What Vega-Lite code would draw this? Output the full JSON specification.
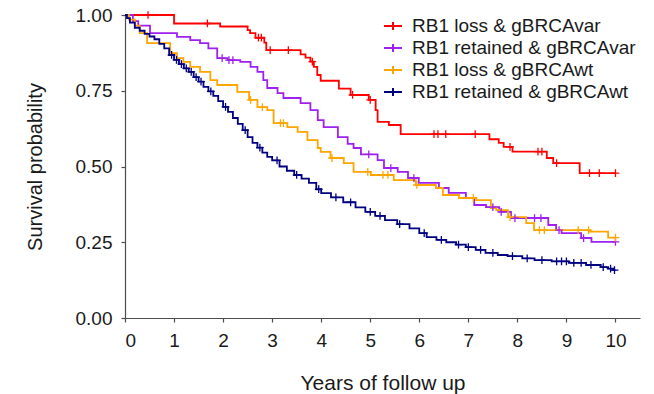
{
  "$schema": "https://vega.github.io/schema/vega-lite/v6.json",
  "width": 515,
  "height": 303,
  "autosize": {"type": "none"},
  "padding": {"left": 125, "top": 15, "right": 14, "bottom": 76},
  "config": {
    "view": {"stroke": null},
    "font": "Liberation Sans",
    "axis": {
      "grid": false,
      "domainColor": "#4d4d4d",
      "domainWidth": 1.2,
      "tickColor": "#4d4d4d",
      "tickWidth": 1.2,
      "tickSize": 4,
      "labelFont": "Liberation Sans",
      "labelFontSize": 19,
      "labelColor": "#1a1a1a",
      "titleFont": "Liberation Sans",
      "titleFontWeight": "normal",
      "titleColor": "#1a1a1a"
    }
  },
  "datasets": {
    "curves": [
      {"group": "RB1 loss & gBRCAvar", "t": 0, "s": 1.0},
      {"group": "RB1 loss & gBRCAvar", "t": 1.0, "s": 0.972},
      {"group": "RB1 loss & gBRCAvar", "t": 1.94, "s": 0.962},
      {"group": "RB1 loss & gBRCAvar", "t": 2.5, "s": 0.95},
      {"group": "RB1 loss & gBRCAvar", "t": 2.55, "s": 0.94},
      {"group": "RB1 loss & gBRCAvar", "t": 2.66, "s": 0.925},
      {"group": "RB1 loss & gBRCAvar", "t": 2.84, "s": 0.909},
      {"group": "RB1 loss & gBRCAvar", "t": 2.88, "s": 0.884},
      {"group": "RB1 loss & gBRCAvar", "t": 3.58, "s": 0.87},
      {"group": "RB1 loss & gBRCAvar", "t": 3.68, "s": 0.859},
      {"group": "RB1 loss & gBRCAvar", "t": 3.78, "s": 0.846},
      {"group": "RB1 loss & gBRCAvar", "t": 3.85, "s": 0.829},
      {"group": "RB1 loss & gBRCAvar", "t": 3.92, "s": 0.802},
      {"group": "RB1 loss & gBRCAvar", "t": 3.99, "s": 0.783},
      {"group": "RB1 loss & gBRCAvar", "t": 4.36, "s": 0.757},
      {"group": "RB1 loss & gBRCAvar", "t": 4.6, "s": 0.736},
      {"group": "RB1 loss & gBRCAvar", "t": 4.97, "s": 0.72},
      {"group": "RB1 loss & gBRCAvar", "t": 5.11, "s": 0.686},
      {"group": "RB1 loss & gBRCAvar", "t": 5.15, "s": 0.647},
      {"group": "RB1 loss & gBRCAvar", "t": 5.38, "s": 0.637},
      {"group": "RB1 loss & gBRCAvar", "t": 5.62, "s": 0.607},
      {"group": "RB1 loss & gBRCAvar", "t": 7.43, "s": 0.59},
      {"group": "RB1 loss & gBRCAvar", "t": 7.62, "s": 0.578},
      {"group": "RB1 loss & gBRCAvar", "t": 7.72, "s": 0.565},
      {"group": "RB1 loss & gBRCAvar", "t": 7.9, "s": 0.549},
      {"group": "RB1 loss & gBRCAvar", "t": 8.6, "s": 0.528},
      {"group": "RB1 loss & gBRCAvar", "t": 8.73, "s": 0.511},
      {"group": "RB1 loss & gBRCAvar", "t": 9.27, "s": 0.478},
      {"group": "RB1 loss & gBRCAvar", "t": 10.0, "s": 0.478},

      {"group": "RB1 retained & gBRCAvar", "t": 0, "s": 1.0},
      {"group": "RB1 retained & gBRCAvar", "t": 0.16, "s": 0.98},
      {"group": "RB1 retained & gBRCAvar", "t": 0.27, "s": 0.965},
      {"group": "RB1 retained & gBRCAvar", "t": 0.51, "s": 0.94},
      {"group": "RB1 retained & gBRCAvar", "t": 1.06, "s": 0.928},
      {"group": "RB1 retained & gBRCAvar", "t": 1.33, "s": 0.917},
      {"group": "RB1 retained & gBRCAvar", "t": 1.53, "s": 0.907},
      {"group": "RB1 retained & gBRCAvar", "t": 1.7, "s": 0.89},
      {"group": "RB1 retained & gBRCAvar", "t": 1.88, "s": 0.858},
      {"group": "RB1 retained & gBRCAvar", "t": 2.09, "s": 0.851},
      {"group": "RB1 retained & gBRCAvar", "t": 2.35, "s": 0.845},
      {"group": "RB1 retained & gBRCAvar", "t": 2.56, "s": 0.829},
      {"group": "RB1 retained & gBRCAvar", "t": 2.7, "s": 0.812},
      {"group": "RB1 retained & gBRCAvar", "t": 2.82, "s": 0.785},
      {"group": "RB1 retained & gBRCAvar", "t": 2.9, "s": 0.759},
      {"group": "RB1 retained & gBRCAvar", "t": 3.11, "s": 0.742},
      {"group": "RB1 retained & gBRCAvar", "t": 3.23, "s": 0.726},
      {"group": "RB1 retained & gBRCAvar", "t": 3.58, "s": 0.709},
      {"group": "RB1 retained & gBRCAvar", "t": 3.78, "s": 0.686},
      {"group": "RB1 retained & gBRCAvar", "t": 3.93, "s": 0.653},
      {"group": "RB1 retained & gBRCAvar", "t": 4.05, "s": 0.63},
      {"group": "RB1 retained & gBRCAvar", "t": 4.34, "s": 0.597},
      {"group": "RB1 retained & gBRCAvar", "t": 4.54, "s": 0.575},
      {"group": "RB1 retained & gBRCAvar", "t": 4.66, "s": 0.561},
      {"group": "RB1 retained & gBRCAvar", "t": 4.81, "s": 0.54},
      {"group": "RB1 retained & gBRCAvar", "t": 5.15, "s": 0.521},
      {"group": "RB1 retained & gBRCAvar", "t": 5.28, "s": 0.495},
      {"group": "RB1 retained & gBRCAvar", "t": 5.56, "s": 0.482},
      {"group": "RB1 retained & gBRCAvar", "t": 5.77, "s": 0.462},
      {"group": "RB1 retained & gBRCAvar", "t": 5.99, "s": 0.446},
      {"group": "RB1 retained & gBRCAvar", "t": 6.4, "s": 0.429},
      {"group": "RB1 retained & gBRCAvar", "t": 6.6, "s": 0.413},
      {"group": "RB1 retained & gBRCAvar", "t": 6.95, "s": 0.396},
      {"group": "RB1 retained & gBRCAvar", "t": 7.12, "s": 0.373},
      {"group": "RB1 retained & gBRCAvar", "t": 7.36, "s": 0.366},
      {"group": "RB1 retained & gBRCAvar", "t": 7.63, "s": 0.35},
      {"group": "RB1 retained & gBRCAvar", "t": 7.87, "s": 0.33},
      {"group": "RB1 retained & gBRCAvar", "t": 8.63, "s": 0.307},
      {"group": "RB1 retained & gBRCAvar", "t": 8.79, "s": 0.29},
      {"group": "RB1 retained & gBRCAvar", "t": 8.9, "s": 0.28},
      {"group": "RB1 retained & gBRCAvar", "t": 9.3, "s": 0.264},
      {"group": "RB1 retained & gBRCAvar", "t": 9.51, "s": 0.251},
      {"group": "RB1 retained & gBRCAvar", "t": 10.0, "s": 0.251},

      {"group": "RB1 loss & gBRCAwt", "t": 0, "s": 1.0},
      {"group": "RB1 loss & gBRCAwt", "t": 0.08, "s": 0.985},
      {"group": "RB1 loss & gBRCAwt", "t": 0.2, "s": 0.965},
      {"group": "RB1 loss & gBRCAwt", "t": 0.3, "s": 0.94},
      {"group": "RB1 loss & gBRCAwt", "t": 0.45, "s": 0.907},
      {"group": "RB1 loss & gBRCAwt", "t": 0.92, "s": 0.874},
      {"group": "RB1 loss & gBRCAwt", "t": 1.06, "s": 0.858},
      {"group": "RB1 loss & gBRCAwt", "t": 1.19, "s": 0.845},
      {"group": "RB1 loss & gBRCAwt", "t": 1.33, "s": 0.829},
      {"group": "RB1 loss & gBRCAwt", "t": 1.53, "s": 0.812},
      {"group": "RB1 loss & gBRCAwt", "t": 1.74, "s": 0.785},
      {"group": "RB1 loss & gBRCAwt", "t": 1.88, "s": 0.769},
      {"group": "RB1 loss & gBRCAwt", "t": 2.29, "s": 0.746},
      {"group": "RB1 loss & gBRCAwt", "t": 2.53, "s": 0.72},
      {"group": "RB1 loss & gBRCAwt", "t": 2.7, "s": 0.696},
      {"group": "RB1 loss & gBRCAwt", "t": 2.9, "s": 0.686},
      {"group": "RB1 loss & gBRCAwt", "t": 3.03, "s": 0.643},
      {"group": "RB1 loss & gBRCAwt", "t": 3.31, "s": 0.63},
      {"group": "RB1 loss & gBRCAwt", "t": 3.52, "s": 0.614},
      {"group": "RB1 loss & gBRCAwt", "t": 3.72, "s": 0.587},
      {"group": "RB1 loss & gBRCAwt", "t": 3.93, "s": 0.561},
      {"group": "RB1 loss & gBRCAwt", "t": 3.99, "s": 0.548},
      {"group": "RB1 loss & gBRCAwt", "t": 4.19, "s": 0.528},
      {"group": "RB1 loss & gBRCAwt", "t": 4.46, "s": 0.511},
      {"group": "RB1 loss & gBRCAwt", "t": 4.66, "s": 0.482},
      {"group": "RB1 loss & gBRCAwt", "t": 5.01, "s": 0.472},
      {"group": "RB1 loss & gBRCAwt", "t": 5.48, "s": 0.455},
      {"group": "RB1 loss & gBRCAwt", "t": 5.93, "s": 0.439},
      {"group": "RB1 loss & gBRCAwt", "t": 6.34, "s": 0.429},
      {"group": "RB1 loss & gBRCAwt", "t": 6.48, "s": 0.406},
      {"group": "RB1 loss & gBRCAwt", "t": 6.81, "s": 0.396},
      {"group": "RB1 loss & gBRCAwt", "t": 7.16, "s": 0.389},
      {"group": "RB1 loss & gBRCAwt", "t": 7.46, "s": 0.363},
      {"group": "RB1 loss & gBRCAwt", "t": 7.57, "s": 0.356},
      {"group": "RB1 loss & gBRCAwt", "t": 7.81, "s": 0.333},
      {"group": "RB1 loss & gBRCAwt", "t": 8.18, "s": 0.313},
      {"group": "RB1 loss & gBRCAwt", "t": 8.34, "s": 0.29},
      {"group": "RB1 loss & gBRCAwt", "t": 9.48, "s": 0.285},
      {"group": "RB1 loss & gBRCAwt", "t": 9.85, "s": 0.265},
      {"group": "RB1 loss & gBRCAwt", "t": 10.0, "s": 0.265},

      {"group": "RB1 retained & gBRCAwt", "t": 0, "s": 1.0},
      {"group": "RB1 retained & gBRCAwt", "t": 0.04, "s": 0.99},
      {"group": "RB1 retained & gBRCAwt", "t": 0.1, "s": 0.975},
      {"group": "RB1 retained & gBRCAwt", "t": 0.2, "s": 0.958},
      {"group": "RB1 retained & gBRCAwt", "t": 0.3, "s": 0.948},
      {"group": "RB1 retained & gBRCAwt", "t": 0.4, "s": 0.938},
      {"group": "RB1 retained & gBRCAwt", "t": 0.5, "s": 0.929},
      {"group": "RB1 retained & gBRCAwt", "t": 0.6, "s": 0.92},
      {"group": "RB1 retained & gBRCAwt", "t": 0.7, "s": 0.905},
      {"group": "RB1 retained & gBRCAwt", "t": 0.8, "s": 0.89},
      {"group": "RB1 retained & gBRCAwt", "t": 0.9, "s": 0.868},
      {"group": "RB1 retained & gBRCAwt", "t": 1.0, "s": 0.852},
      {"group": "RB1 retained & gBRCAwt", "t": 1.1, "s": 0.838},
      {"group": "RB1 retained & gBRCAwt", "t": 1.2, "s": 0.824},
      {"group": "RB1 retained & gBRCAwt", "t": 1.3, "s": 0.812},
      {"group": "RB1 retained & gBRCAwt", "t": 1.4, "s": 0.795},
      {"group": "RB1 retained & gBRCAwt", "t": 1.5, "s": 0.78},
      {"group": "RB1 retained & gBRCAwt", "t": 1.6, "s": 0.763},
      {"group": "RB1 retained & gBRCAwt", "t": 1.7, "s": 0.748},
      {"group": "RB1 retained & gBRCAwt", "t": 1.8, "s": 0.733},
      {"group": "RB1 retained & gBRCAwt", "t": 1.9, "s": 0.716},
      {"group": "RB1 retained & gBRCAwt", "t": 2.0, "s": 0.697},
      {"group": "RB1 retained & gBRCAwt", "t": 2.1, "s": 0.68},
      {"group": "RB1 retained & gBRCAwt", "t": 2.2, "s": 0.66},
      {"group": "RB1 retained & gBRCAwt", "t": 2.3, "s": 0.641},
      {"group": "RB1 retained & gBRCAwt", "t": 2.4, "s": 0.62},
      {"group": "RB1 retained & gBRCAwt", "t": 2.5, "s": 0.597},
      {"group": "RB1 retained & gBRCAwt", "t": 2.6, "s": 0.578},
      {"group": "RB1 retained & gBRCAwt", "t": 2.7, "s": 0.562},
      {"group": "RB1 retained & gBRCAwt", "t": 2.8, "s": 0.546},
      {"group": "RB1 retained & gBRCAwt", "t": 2.9, "s": 0.532},
      {"group": "RB1 retained & gBRCAwt", "t": 3.0, "s": 0.52},
      {"group": "RB1 retained & gBRCAwt", "t": 3.15, "s": 0.5},
      {"group": "RB1 retained & gBRCAwt", "t": 3.3, "s": 0.486},
      {"group": "RB1 retained & gBRCAwt", "t": 3.45, "s": 0.472},
      {"group": "RB1 retained & gBRCAwt", "t": 3.6, "s": 0.46},
      {"group": "RB1 retained & gBRCAwt", "t": 3.75, "s": 0.446},
      {"group": "RB1 retained & gBRCAwt", "t": 3.9, "s": 0.425},
      {"group": "RB1 retained & gBRCAwt", "t": 4.0, "s": 0.412},
      {"group": "RB1 retained & gBRCAwt", "t": 4.2, "s": 0.398},
      {"group": "RB1 retained & gBRCAwt", "t": 4.45, "s": 0.382},
      {"group": "RB1 retained & gBRCAwt", "t": 4.7, "s": 0.365},
      {"group": "RB1 retained & gBRCAwt", "t": 4.9, "s": 0.35},
      {"group": "RB1 retained & gBRCAwt", "t": 5.1, "s": 0.337},
      {"group": "RB1 retained & gBRCAwt", "t": 5.3, "s": 0.323},
      {"group": "RB1 retained & gBRCAwt", "t": 5.55, "s": 0.31},
      {"group": "RB1 retained & gBRCAwt", "t": 5.8, "s": 0.296},
      {"group": "RB1 retained & gBRCAwt", "t": 6.0, "s": 0.28},
      {"group": "RB1 retained & gBRCAwt", "t": 6.15, "s": 0.267},
      {"group": "RB1 retained & gBRCAwt", "t": 6.35, "s": 0.258},
      {"group": "RB1 retained & gBRCAwt", "t": 6.55, "s": 0.25},
      {"group": "RB1 retained & gBRCAwt", "t": 6.75, "s": 0.242},
      {"group": "RB1 retained & gBRCAwt", "t": 6.95, "s": 0.234},
      {"group": "RB1 retained & gBRCAwt", "t": 7.15, "s": 0.225},
      {"group": "RB1 retained & gBRCAwt", "t": 7.35, "s": 0.215},
      {"group": "RB1 retained & gBRCAwt", "t": 7.6, "s": 0.208},
      {"group": "RB1 retained & gBRCAwt", "t": 7.8, "s": 0.204},
      {"group": "RB1 retained & gBRCAwt", "t": 8.1, "s": 0.197},
      {"group": "RB1 retained & gBRCAwt", "t": 8.35, "s": 0.191},
      {"group": "RB1 retained & gBRCAwt", "t": 8.7, "s": 0.187},
      {"group": "RB1 retained & gBRCAwt", "t": 9.05, "s": 0.182},
      {"group": "RB1 retained & gBRCAwt", "t": 9.4, "s": 0.175},
      {"group": "RB1 retained & gBRCAwt", "t": 9.7, "s": 0.168},
      {"group": "RB1 retained & gBRCAwt", "t": 9.85, "s": 0.163},
      {"group": "RB1 retained & gBRCAwt", "t": 9.95, "s": 0.158},
      {"group": "RB1 retained & gBRCAwt", "t": 10.0, "s": 0.158}
    ],
    "censors": [
      {"group": "RB1 loss & gBRCAvar", "t": 0.47, "s": 1.0},
      {"group": "RB1 loss & gBRCAvar", "t": 1.68, "s": 0.972},
      {"group": "RB1 loss & gBRCAvar", "t": 2.72, "s": 0.925},
      {"group": "RB1 loss & gBRCAvar", "t": 2.78, "s": 0.925},
      {"group": "RB1 loss & gBRCAvar", "t": 2.96, "s": 0.884},
      {"group": "RB1 loss & gBRCAvar", "t": 3.33, "s": 0.884},
      {"group": "RB1 loss & gBRCAvar", "t": 3.82, "s": 0.846},
      {"group": "RB1 loss & gBRCAvar", "t": 4.64, "s": 0.736},
      {"group": "RB1 loss & gBRCAvar", "t": 5.0, "s": 0.72},
      {"group": "RB1 loss & gBRCAvar", "t": 6.3, "s": 0.607},
      {"group": "RB1 loss & gBRCAvar", "t": 6.38, "s": 0.607},
      {"group": "RB1 loss & gBRCAvar", "t": 6.54, "s": 0.607},
      {"group": "RB1 loss & gBRCAvar", "t": 7.14, "s": 0.607},
      {"group": "RB1 loss & gBRCAvar", "t": 7.85, "s": 0.565},
      {"group": "RB1 loss & gBRCAvar", "t": 8.42, "s": 0.549},
      {"group": "RB1 loss & gBRCAvar", "t": 8.5, "s": 0.549},
      {"group": "RB1 loss & gBRCAvar", "t": 8.8, "s": 0.511},
      {"group": "RB1 loss & gBRCAvar", "t": 9.47, "s": 0.478},
      {"group": "RB1 loss & gBRCAvar", "t": 9.67, "s": 0.478},
      {"group": "RB1 loss & gBRCAvar", "t": 10.0, "s": 0.478},

      {"group": "RB1 retained & gBRCAvar", "t": 1.98, "s": 0.858},
      {"group": "RB1 retained & gBRCAvar", "t": 2.12, "s": 0.851},
      {"group": "RB1 retained & gBRCAvar", "t": 2.2, "s": 0.851},
      {"group": "RB1 retained & gBRCAvar", "t": 4.97, "s": 0.54},
      {"group": "RB1 retained & gBRCAvar", "t": 5.42, "s": 0.495},
      {"group": "RB1 retained & gBRCAvar", "t": 5.89, "s": 0.462},
      {"group": "RB1 retained & gBRCAvar", "t": 7.5, "s": 0.366},
      {"group": "RB1 retained & gBRCAvar", "t": 7.67, "s": 0.35},
      {"group": "RB1 retained & gBRCAvar", "t": 7.95, "s": 0.33},
      {"group": "RB1 retained & gBRCAvar", "t": 8.35, "s": 0.33},
      {"group": "RB1 retained & gBRCAvar", "t": 8.48, "s": 0.33},
      {"group": "RB1 retained & gBRCAvar", "t": 8.85, "s": 0.29},
      {"group": "RB1 retained & gBRCAvar", "t": 9.35, "s": 0.264},
      {"group": "RB1 retained & gBRCAvar", "t": 10.0, "s": 0.251},

      {"group": "RB1 loss & gBRCAwt", "t": 2.56, "s": 0.72},
      {"group": "RB1 loss & gBRCAwt", "t": 2.8, "s": 0.696},
      {"group": "RB1 loss & gBRCAwt", "t": 3.17, "s": 0.643},
      {"group": "RB1 loss & gBRCAwt", "t": 3.23, "s": 0.643},
      {"group": "RB1 loss & gBRCAwt", "t": 4.22, "s": 0.528},
      {"group": "RB1 loss & gBRCAwt", "t": 4.95, "s": 0.482},
      {"group": "RB1 loss & gBRCAwt", "t": 5.26, "s": 0.472},
      {"group": "RB1 loss & gBRCAwt", "t": 5.36, "s": 0.472},
      {"group": "RB1 loss & gBRCAwt", "t": 5.95, "s": 0.439},
      {"group": "RB1 loss & gBRCAwt", "t": 7.1, "s": 0.396},
      {"group": "RB1 loss & gBRCAwt", "t": 7.85, "s": 0.333},
      {"group": "RB1 loss & gBRCAwt", "t": 8.45, "s": 0.29},
      {"group": "RB1 loss & gBRCAwt", "t": 8.55, "s": 0.29},
      {"group": "RB1 loss & gBRCAwt", "t": 9.24, "s": 0.29},
      {"group": "RB1 loss & gBRCAwt", "t": 9.45, "s": 0.29},
      {"group": "RB1 loss & gBRCAwt", "t": 10.0, "s": 0.265},

      {"group": "RB1 retained & gBRCAwt", "t": 0.95, "s": 0.868},
      {"group": "RB1 retained & gBRCAwt", "t": 1.05, "s": 0.852},
      {"group": "RB1 retained & gBRCAwt", "t": 1.15, "s": 0.838},
      {"group": "RB1 retained & gBRCAwt", "t": 1.25, "s": 0.824},
      {"group": "RB1 retained & gBRCAwt", "t": 1.35, "s": 0.812},
      {"group": "RB1 retained & gBRCAwt", "t": 1.45, "s": 0.795},
      {"group": "RB1 retained & gBRCAwt", "t": 1.55, "s": 0.78},
      {"group": "RB1 retained & gBRCAwt", "t": 1.75, "s": 0.748},
      {"group": "RB1 retained & gBRCAwt", "t": 2.05, "s": 0.697},
      {"group": "RB1 retained & gBRCAwt", "t": 2.45, "s": 0.62},
      {"group": "RB1 retained & gBRCAwt", "t": 2.75, "s": 0.562},
      {"group": "RB1 retained & gBRCAwt", "t": 3.1, "s": 0.52},
      {"group": "RB1 retained & gBRCAwt", "t": 3.5, "s": 0.472},
      {"group": "RB1 retained & gBRCAwt", "t": 3.95, "s": 0.425},
      {"group": "RB1 retained & gBRCAwt", "t": 4.3, "s": 0.398},
      {"group": "RB1 retained & gBRCAwt", "t": 4.6, "s": 0.382},
      {"group": "RB1 retained & gBRCAwt", "t": 5.0, "s": 0.35},
      {"group": "RB1 retained & gBRCAwt", "t": 5.2, "s": 0.337},
      {"group": "RB1 retained & gBRCAwt", "t": 5.6, "s": 0.31},
      {"group": "RB1 retained & gBRCAwt", "t": 6.1, "s": 0.28},
      {"group": "RB1 retained & gBRCAwt", "t": 6.45, "s": 0.258},
      {"group": "RB1 retained & gBRCAwt", "t": 6.8, "s": 0.242},
      {"group": "RB1 retained & gBRCAwt", "t": 7.0, "s": 0.234},
      {"group": "RB1 retained & gBRCAwt", "t": 7.25, "s": 0.225},
      {"group": "RB1 retained & gBRCAwt", "t": 7.5, "s": 0.215},
      {"group": "RB1 retained & gBRCAwt", "t": 7.9, "s": 0.204},
      {"group": "RB1 retained & gBRCAwt", "t": 8.2, "s": 0.197},
      {"group": "RB1 retained & gBRCAwt", "t": 8.5, "s": 0.191},
      {"group": "RB1 retained & gBRCAwt", "t": 8.8, "s": 0.187},
      {"group": "RB1 retained & gBRCAwt", "t": 8.9, "s": 0.187},
      {"group": "RB1 retained & gBRCAwt", "t": 9.0, "s": 0.187},
      {"group": "RB1 retained & gBRCAwt", "t": 9.15, "s": 0.182},
      {"group": "RB1 retained & gBRCAwt", "t": 9.3, "s": 0.182},
      {"group": "RB1 retained & gBRCAwt", "t": 9.5, "s": 0.175},
      {"group": "RB1 retained & gBRCAwt", "t": 9.75, "s": 0.168},
      {"group": "RB1 retained & gBRCAwt", "t": 9.9, "s": 0.163},
      {"group": "RB1 retained & gBRCAwt", "t": 9.98, "s": 0.158}
    ]
  },
  "layer": [
    {
      "data": {"name": "curves"},
      "mark": {"type": "line", "interpolate": "step-after", "strokeWidth": 1.8},
      "encoding": {
        "x": {
          "field": "t", "type": "quantitative",
          "scale": {"domain": [0, 10.5], "nice": false, "zero": false},
          "axis": {"values": [0, 1, 2, 3, 4, 5, 6, 7, 8, 9, 10], "title": "Years of follow up", "titleFontSize": 21, "labelPadding": 9, "titlePadding": 22}
        },
        "y": {
          "field": "s", "type": "quantitative",
          "scale": {"domain": [0, 1], "nice": false},
          "axis": {"values": [0, 0.25, 0.5, 0.75, 1], "format": ".2f", "title": "Survival probability", "titleFontSize": 20, "labelPadding": 9, "titlePadding": 30}
        },
        "color": {
          "field": "group", "type": "nominal",
          "scale": {
            "domain": ["RB1 loss & gBRCAvar", "RB1 retained & gBRCAvar", "RB1 loss & gBRCAwt", "RB1 retained & gBRCAwt"],
            "range": ["#FF0000", "#A020F0", "#FFA500", "#000080"]
          },
          "legend": {
            "title": null,
            "orient": "none",
            "legendX": 258,
            "legendY": 1,
            "symbolType": "M-1,0H1M0,-0.45V0.45",
            "symbolSize": 324,
            "symbolStrokeWidth": 2,
            "labelFont": "Liberation Sans",
            "labelFontSize": 19,
            "labelLimit": 0,
            "labelColor": "#1a1a1a",
            "rowPadding": 2,
            "labelOffset": 9
          }
        }
      }
    },
    {
      "data": {"name": "censors"},
      "mark": {"type": "point", "shape": "M0,-1V1M-1,0H1", "filled": false, "size": 60, "strokeWidth": 1.3, "opacity": 1},
      "encoding": {
        "x": {"field": "t", "type": "quantitative"},
        "y": {"field": "s", "type": "quantitative"},
        "color": {"field": "group", "type": "nominal", "legend": null}
      }
    }
  ]
}
